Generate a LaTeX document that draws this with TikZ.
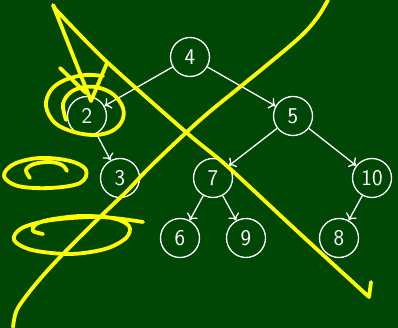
\documentclass[tikz,border=0pt]{standalone}
\usetikzlibrary{arrows.meta}
\definecolor{board}{RGB}{0,70,5}
\definecolor{chalk}{RGB}{255,255,0}
\begin{document}
\begin{tikzpicture}[x=1pt,y=-1pt,
  tnode/.style={circle,draw=white,line width=1.3pt,minimum size=39pt,inner sep=0pt,
    text=white,font=\sffamily\fontsize{22.5}{26}\selectfont},
  tedge/.style={draw=white,line width=1.3pt,-{To[length=6pt,width=12pt]}},
  ink/.style={draw=chalk,line width=3.8pt,line cap=round,line join=round}]
\fill[board] (0,0) rectangle (398,328);
\useasboundingbox (0,0) rectangle (398,328);
\node[tnode] (n4) at (190,57) {4};
\node[tnode] (n2) at (87,116) {2};
\node[tnode] (n5) at (293,116) {5};
\node[tnode] (n3) at (120,178) {3};
\node[tnode] (n7) at (213,178) {7};
\node[tnode] (n10) at (372,178) {10};
\node[tnode] (n6) at (180,238) {6};
\node[tnode] (n9) at (246,238) {9};
\node[tnode] (n8) at (339,238) {8};
\draw[tedge] (n4) -- (n2);
\draw[tedge] (n4) -- (n5);
\draw[tedge] (n2) -- (n3);
\draw[tedge] (n5) -- (n7);
\draw[tedge] (n5) -- (n10);
\draw[tedge] (n7) -- (n6);
\draw[tedge] (n7) -- (n9);
\draw[tedge] (n10) -- (n8);
% big sweeping curve
\draw[ink] plot[smooth,tension=0.6] coordinates {(13,327) (16,312) (24,299) (40,279) (63,254) (100,217) (127,191) (153,164) (200,120) (240,87) (267,65) (300,37) (317,18) (328,0)};
% V and long diagonal
\draw[ink] (107,63) -- (91,101) -- (53,5) .. controls (55,9) .. (60,14)
  plot[smooth,tension=0.5] coordinates {(60,14) (107,62) (187,133) (227,166) (297,231) (369,297)} -- (371,282);
% short stroke into node 2
\draw[ink] (60,68) -- (86,93);
% spiral around node 2
\draw[ink] plot[smooth,tension=0.6] coordinates {(66,120) (63,104) (71,92) (85,87) (100,88) (114,95) (123,108) (122,121) (112,131) (95,135) (74,132) (55,123) (46,106) (51,90) (65,80) (85,75) (103,76)};
% small ellipse left of node 3
\draw[ink] plot[smooth cycle,tension=0.6] coordinates {(4,176) (14,164) (40,158) (70,161) (86,170) (80,183) (50,188) (18,186)};
\draw[ink] plot[smooth,tension=0.6] coordinates {(30,178) (26,170) (34,164) (50,162) (62,165) (67,171)};
% lower ellipse with hook and tail
\draw[ink] plot[smooth,tension=0.55] coordinates {(43,234) (33,231) (35,225) (48,220) (80,216) (112,218) (129,226) (126,238) (105,249) (70,254) (32,250) (14,240) (22,228) (52,220) (100,217) (143,222)};
\end{tikzpicture}
\end{document}
